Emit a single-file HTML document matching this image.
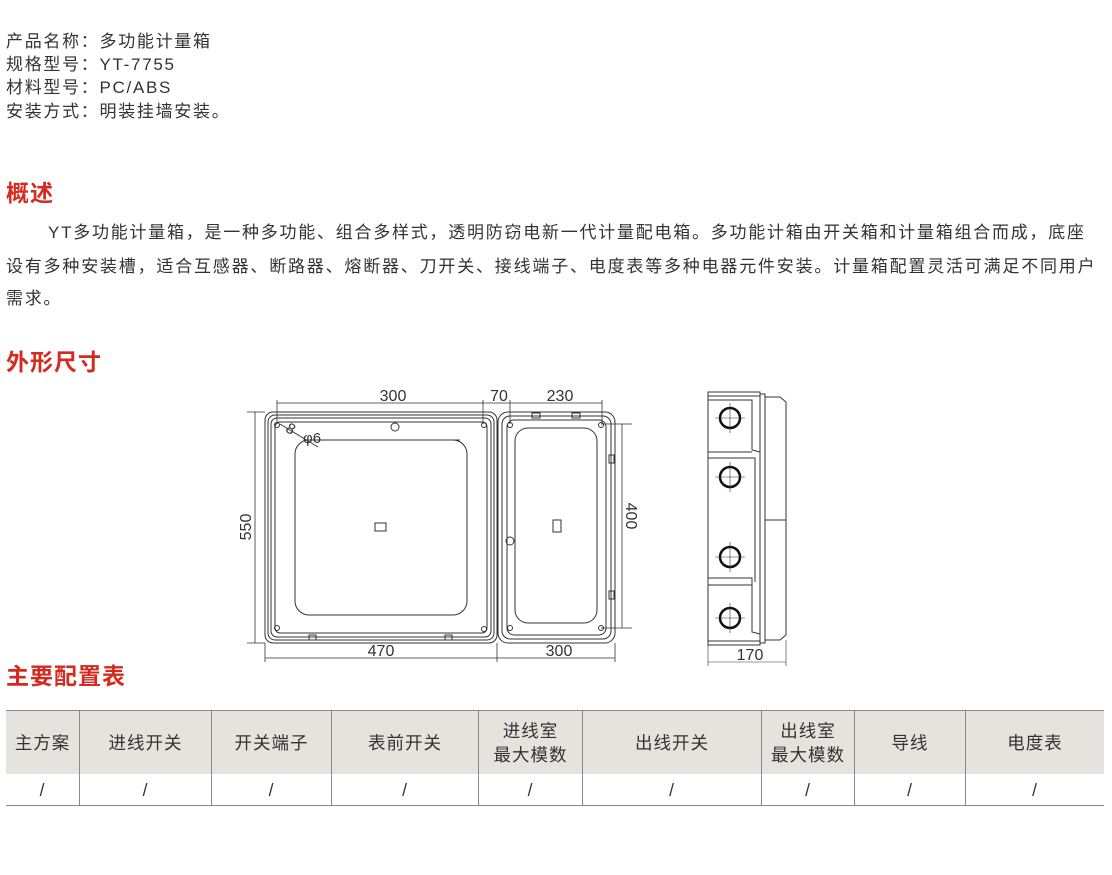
<!DOCTYPE html>
<html><head><meta charset="utf-8">
<style>
body{margin:0;width:1112px;height:875px;background:#fff;position:relative;font-family:"Liberation Sans","Noto Sans CJK SC",sans-serif;color:#333;overflow:hidden}
.t{position:absolute;left:6px;font-size:17px;letter-spacing:1.7px;white-space:nowrap;line-height:20px}
.h{position:absolute;left:6px;font-size:23px;font-weight:bold;color:#d42a20;letter-spacing:1px;line-height:26px}
table{position:absolute;left:6px;top:710px;width:1098px;border-collapse:collapse;font-size:17.5px;color:#333;letter-spacing:1px}
td{border-left:1px solid #888;text-align:center;padding:0;line-height:24px}
td:first-child{border-left:none}
tr.hd td{background:#e6e3df;height:63px}
tr.bd td{height:31px}
table{border-top:1px solid #888;border-bottom:1px solid #888}
</style></head><body>
<div class="t" style="top:32px">产品名称：多功能计量箱</div>
<div class="t" style="top:55px">规格型号：YT-7755</div>
<div class="t" style="top:78px">材料型号：PC/ABS</div>
<div class="t" style="top:102px">安装方式：明装挂墙安装。</div>
<div class="h" style="top:180px">概述</div>
<div class="t" style="top:223px;left:48px;letter-spacing:1.75px">YT多功能计量箱，是一种多功能、组合多样式，透明防窃电新一代计量配电箱。多功能计箱由开关箱和计量箱组合而成，底座</div>
<div class="t" style="top:257px;letter-spacing:1.8px">设有多种安装槽，适合互感器、断路器、熔断器、刀开关、接线端子、电度表等多种电器元件安装。计量箱配置灵活可满足不同用户</div>
<div class="t" style="top:289px">需求。</div>
<div class="h" style="top:349px">外形尺寸</div>
<div class="h" style="top:663px">主要配置表</div>

<svg style="position:absolute;left:0;top:0" width="1112" height="875" fill="none" stroke="#333" stroke-width="1" font-family="Liberation Sans" font-size="16">
<rect x="265" y="412" width="232" height="231" rx="8"/>
<rect x="268" y="415" width="226" height="225" rx="7"/>
<rect x="271" y="418" width="220" height="219" rx="6"/>
<rect x="275" y="422" width="212" height="211" rx="5"/>
<rect x="295" y="440" width="172" height="175" rx="14"/>
<rect x="375" y="523" width="11" height="8"/>
<circle cx="395" cy="427" r="4"/>
<circle cx="277" cy="425" r="2.5"/><circle cx="484" cy="425" r="2.5"/>
<circle cx="277" cy="628" r="2.5"/><circle cx="484" cy="629" r="2.5"/>
<rect x="309" y="635" width="7" height="5"/><rect x="445" y="635" width="7" height="5"/>
<line x1="280" y1="424" x2="318" y2="447"/>
<line x1="318" y1="440" x2="460" y2="440"/>
<rect x="498" y="412" width="117" height="231" rx="10"/>
<rect x="502" y="416" width="109" height="223" rx="8"/>
<rect x="507" y="420" width="99" height="215" rx="7"/>
<rect x="515" y="428" width="82" height="195" rx="13"/>
<rect x="553" y="520" width="8" height="12"/>
<circle cx="510" cy="541" r="4"/>
<circle cx="510" cy="425" r="2.5"/><circle cx="601" cy="425" r="2.5"/>
<circle cx="510" cy="628" r="2.5"/><circle cx="601" cy="628" r="2.5"/>
<rect x="532" y="413" width="8" height="5"/><rect x="572" y="413" width="8" height="5"/>
<rect x="609" y="455" width="5" height="8"/><rect x="609" y="591" width="5" height="8"/>
<g stroke-width="0.8">
<line x1="277" y1="403" x2="602" y2="403"/>
<line x1="277" y1="400" x2="277" y2="424"/><line x1="483" y1="400" x2="483" y2="424"/><line x1="510" y1="400" x2="510" y2="424"/><line x1="602" y1="400" x2="602" y2="424"/>
<line x1="265" y1="658" x2="615" y2="658"/>
<line x1="265" y1="643" x2="265" y2="662"/><line x1="497" y1="643" x2="497" y2="662"/><line x1="615" y1="643" x2="615" y2="662"/>
<line x1="255" y1="412" x2="255" y2="643"/>
<line x1="247" y1="412" x2="265" y2="412"/><line x1="247" y1="643" x2="265" y2="643"/>
<line x1="622" y1="424" x2="622" y2="628"/>
<line x1="601" y1="424" x2="632" y2="424"/><line x1="601" y1="628" x2="632" y2="628"/>
</g>
<g fill="#333" stroke="none">
<text x="393" y="401" text-anchor="middle">300</text>
<text x="499" y="401" text-anchor="middle">70</text>
<text x="560" y="401" text-anchor="middle">230</text>
<text x="381" y="656" text-anchor="middle">470</text>
<text x="559" y="656" text-anchor="middle">300</text>
<text x="0" y="0" text-anchor="middle" transform="translate(251,527) rotate(-90)">550</text>
<text x="0" y="0" text-anchor="middle" transform="translate(626,516) rotate(90)">400</text>
<text x="286" y="434" font-size="15" transform="rotate(30 291 430)">8</text>
<text x="303" y="443" font-size="15">φ6</text>
</g>
<rect x="708" y="392" width="52" height="253"/>
<line x1="708" y1="396" x2="760" y2="396"/>
<line x1="708" y1="641" x2="760" y2="641"/>
<path d="M708 400 H752 V450 L760 452"/><line x1="708" y1="452" x2="752" y2="452"/>
<path d="M708 458 H755 V582"/>
<path d="M708 578 H752 V632 L760 634"/><line x1="708" y1="585" x2="752" y2="585"/>
<rect x="760" y="394" width="5" height="249"/>
<path d="M765 397 H780 L786 402 V635 L780 640 H765"/>
<line x1="765" y1="520" x2="786" y2="520"/>
<g stroke="#111" stroke-width="2.5">
<circle cx="730" cy="418" r="10"/><circle cx="730" cy="477" r="10"/><circle cx="730" cy="557" r="10"/><circle cx="730" cy="618" r="10"/>
</g>
<g stroke-width="0.6">
<path d="M715 418H745M730 403V433M715 477H745M730 462V492M715 557H745M730 542V572M715 618H745M730 603V633"/>
<line x1="708" y1="662" x2="786" y2="662"/>
<line x1="708" y1="645" x2="708" y2="666"/><line x1="786" y1="640" x2="786" y2="666"/>
</g>
<text x="750" y="660" fill="#333" stroke="none" text-anchor="middle">170</text>
</svg>

<table>
<tr class="hd"><td style="width:73px">主方案</td><td style="width:131px">进线开关</td><td style="width:119px">开关端子</td><td style="width:146px">表前开关</td><td style="width:103px">进线室<br>最大模数</td><td style="width:178px">出线开关</td><td style="width:92px">出线室<br>最大模数</td><td style="width:110px">导线</td><td>电度表</td></tr>
<tr class="bd"><td>/</td><td>/</td><td>/</td><td>/</td><td>/</td><td>/</td><td>/</td><td>/</td><td>/</td></tr>
</table>
</body></html>
